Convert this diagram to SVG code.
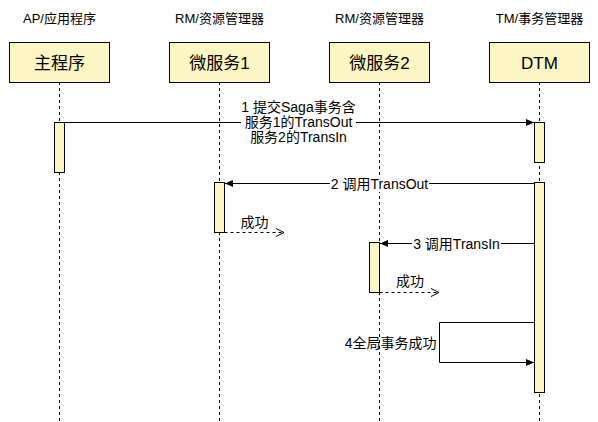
<svg xmlns="http://www.w3.org/2000/svg" width="598" height="422" viewBox="0 0 598 422">
<defs>
<style>
text{font-family:"Liberation Sans","Noto Sans CJK SC",sans-serif;fill:#000}
.hdr{font-size:13px;text-anchor:middle}
.box{fill:#fbf6c3;stroke:#000;stroke-width:1}
.bt{font-size:17px;text-anchor:middle}
.life{stroke:#000;stroke-width:1;stroke-dasharray:3 3;fill:none}
.bar{fill:#fbf6c3;stroke:#000;stroke-width:1}
.msg{stroke:#000;stroke-width:1;fill:none}
.ret{stroke:#000;stroke-width:1;fill:none;stroke-dasharray:3 3}
.lbl{font-size:14px;text-anchor:middle}
</style>
<marker id="block" markerWidth="9" markerHeight="8" refX="8" refY="4" orient="auto" markerUnits="userSpaceOnUse">
<path d="M0,0.5 L8,4 L0,7.5 z" fill="#000"/>
</marker>
<marker id="open" markerWidth="10" markerHeight="10" refX="8" refY="5" orient="auto" markerUnits="userSpaceOnUse">
<path d="M0,1 L8,5 L0,9" fill="none" stroke="#000" stroke-width="1"/>
</marker>
</defs>
<rect width="598" height="422" fill="#fff"/>

<g id="lifeline-main">
<text class="hdr" x="59.5" y="23">AP/应用程序</text>
<line class="life" x1="59.5" y1="82" x2="59.5" y2="422"/>
<rect class="box" x="9.5" y="42.5" width="100" height="40"/>
<text class="bt" x="59.5" y="68.5">主程序</text>
<rect class="bar" x="54.5" y="122.5" width="10" height="50"/>
</g>

<g id="lifeline-svc1">
<text class="hdr" x="219.5" y="23">RM/资源管理器</text>
<line class="life" x1="219.5" y1="82" x2="219.5" y2="422"/>
<rect class="box" x="169.5" y="42.5" width="100" height="40"/>
<text class="bt" x="219.5" y="68.5">微服务1</text>
<rect class="bar" x="214.5" y="182.5" width="10" height="50"/>
</g>

<g id="lifeline-svc2">
<text class="hdr" x="379.5" y="23">RM/资源管理器</text>
<line class="life" x1="379.5" y1="82" x2="379.5" y2="422"/>
<rect class="box" x="329.5" y="42.5" width="100" height="40"/>
<text class="bt" x="379.5" y="68.5">微服务2</text>
<rect class="bar" x="369.5" y="242.5" width="10" height="50"/>
</g>

<g id="lifeline-dtm">
<text class="hdr" x="539.5" y="23">TM/事务管理器</text>
<line class="life" x1="539.5" y1="82" x2="539.5" y2="422"/>
<rect class="box" x="489.5" y="42.5" width="100" height="40"/>
<text class="bt" x="539.5" y="68.5">DTM</text>
<rect class="bar" x="534.5" y="122.5" width="10" height="40"/>
<rect class="bar" x="534.5" y="182.5" width="10" height="210"/>
</g>

<g id="connectors">
<line class="msg" x1="64.5" y1="122.5" x2="534" y2="122.5" marker-end="url(#block)"/>
<rect x="241" y="99" width="115" height="46" fill="#fff"/>
<text class="lbl" x="298.5" y="112">1 提交Saga事务含</text>
<text class="lbl" x="298.5" y="127">服务1的TransOut</text>
<text class="lbl" x="298.5" y="142">服务2的TransIn</text>

<line class="msg" x1="534.5" y1="183.5" x2="225" y2="183.5" marker-end="url(#block)"/>
<rect x="330" y="175" width="99" height="17" fill="#fff"/>
<text class="lbl" x="379.5" y="188.5">2 调用TransOut</text>

<line class="ret" x1="224.5" y1="232.5" x2="284" y2="232.5" marker-end="url(#open)"/>
<text class="lbl" x="254.5" y="227">成功</text>

<line class="msg" x1="534.5" y1="243.5" x2="380" y2="243.5" marker-end="url(#block)"/>
<rect x="412" y="235" width="89" height="17" fill="#fff"/>
<text class="lbl" x="456.5" y="248.5">3 调用TransIn</text>

<line class="ret" x1="379.5" y1="292.5" x2="439" y2="292.5" marker-end="url(#open)"/>
<text class="lbl" x="410" y="286">成功</text>

<path class="msg" d="M534.5,322.5 H439.5 V362.5 H534" marker-end="url(#block)"/>
<text x="436.5" y="347.5" style="font-size:14px;text-anchor:end">4全局事务成功</text>
</g>
</svg>
